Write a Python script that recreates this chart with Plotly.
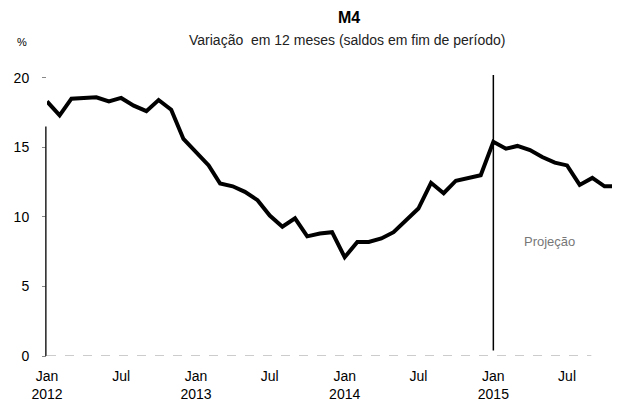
import plotly.graph_objects as go

# Monthly M4 12-month growth (%), Jan 2012 .. Nov 2015
months = [f"{y}-{m:02d}-01" for y in range(2012, 2016) for m in range(1, 13)][:47]
values = [
    18.3, 17.3, 18.5, 18.55, 18.6, 18.3, 18.55, 18.0, 17.6, 18.4, 17.7, 15.6,   # 2012
    14.7, 13.7, 12.4, 12.2, 11.8, 11.2, 10.1, 9.3, 9.9, 8.6, 8.8, 8.9,          # 2013
    7.1, 8.2, 8.2, 8.45, 8.9, 9.8, 10.6, 12.45, 11.7, 12.6, 12.8, 13.0,         # 2014
    15.4, 14.9, 15.1, 14.8, 14.3, 13.9, 13.7, 12.3, 12.8, 12.2, 12.2,           # 2015
]

tick_vals = ["2012-01-01", "2012-07-01", "2013-01-01", "2013-07-01",
             "2014-01-01", "2014-07-01", "2015-01-01", "2015-07-01"]
tick_text = ["Jan<br>2012", "Jul", "Jan<br>2013", "Jul",
             "Jan<br>2014", "Jul", "Jan<br>2015", "Jul"]
y_ticks = [0, 5, 10, 15, 20]

projection_start = "2015-01-01"

font = "Liberation Sans, Arial, sans-serif"

# The page body has an 8px margin; the figure is sized to fill the rest.
OFF = 8
W, H = 620 - OFF, 401 - OFF
L, R, T, B = 47 - OFF, 0, 75 - OFF, 45
PW, PH = W - L - R, H - T - B


def px_x(px):
    return (px - OFF - L) / PW


def px_y(py):
    return (H - B - (py - OFF)) / PH


fig = go.Figure()
fig.add_trace(go.Scatter(
    x=months, y=values, mode="lines",
    line=dict(color="black", width=4),
    showlegend=False, hoverinfo="skip",
))

# Projection divider
fig.add_shape(type="line", xref="x", yref="paper",
              x0=projection_start, x1=projection_start, y0=0.02, y1=1,
              line=dict(color="black", width=1.5))
# Left axis line (partly visible in the original)
fig.add_shape(type="line", xref="paper", yref="y",
              x0=-0.002, x1=-0.002, y0=0, y1=16.5,
              line=dict(color="#222", width=1.5))
# Baseline
fig.add_shape(type="line", xref="paper", yref="y",
              x0=0, x1=0.95, y0=0, y1=0,
              line=dict(color="#999", width=1, dash="dash"))

fig.update_layout(
    width=W, height=H,
    margin=dict(l=L, r=R, t=T, b=B),
    paper_bgcolor="white", plot_bgcolor="white",
    font=dict(family=font, size=14, color="black"),
    xaxis=dict(
        type="date",
        range=["2012-01-01", "2015-11-08"],
        tickmode="array", tickvals=tick_vals, ticktext=tick_text,
        showgrid=False, zeroline=False, showline=False,
        ticks="", ticklabelstandoff=10, automargin=False,
        tickfont=dict(size=14, color="black"),
    ),
    yaxis=dict(
        range=[0, 20.2],
        tickmode="array", tickvals=y_ticks,
        showgrid=False, zeroline=False, showline=False,
        ticks="outside", ticklen=4, tickcolor="#888", tickwidth=1,
        ticklabelstandoff=10, automargin=False,
        tickfont=dict(size=14, color="black"),
    ),
)

fig.add_annotation(x=px_x(349), xref="paper", y=px_y(8), yref="paper",
                   xanchor="center", yanchor="top", borderpad=0, text="<b>M4</b>",
                   showarrow=False, font=dict(family=font, size=16, color="black"))
fig.add_annotation(x=px_x(347), xref="paper", y=px_y(40), yref="paper",
                   xanchor="center", yanchor="middle",
                   text="Variação  em 12 meses (saldos em fim de período)",
                   showarrow=False, font=dict(family=font, size=14, color="#222"))
fig.add_annotation(x=px_x(22), xref="paper", y=px_y(42), yref="paper",
                   xanchor="center", yanchor="middle", text="%",
                   showarrow=False, font=dict(family=font, size=11, color="black"))
fig.add_annotation(x="2015-05-20", xref="x", y=px_y(241), yref="paper",
                   xanchor="center", yanchor="middle", text="Projeção",
                   showarrow=False, font=dict(family=font, size=13, color="#777"))

fig.write_html("out.html")
